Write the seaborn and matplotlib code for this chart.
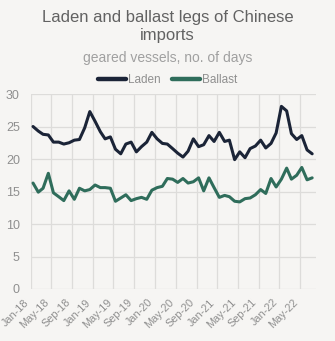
import numpy as np
import pandas as pd
import matplotlib
matplotlib.use("Agg")
import matplotlib.pyplot as plt
import matplotlib.dates as mdates
from matplotlib.lines import Line2D
import seaborn as sns

# ---- data ----
laden = [25.0, 24.3, 23.8, 23.7, 22.6, 22.6, 22.3, 22.5, 22.9, 23.0,
         24.8, 27.3, 25.8, 24.2, 23.1, 23.4, 21.5, 20.8, 22.3, 22.6,
         21.1, 21.9, 22.6, 24.1, 23.1, 22.4, 22.3, 21.6, 20.9, 20.3,
         21.2, 23.1, 21.9, 22.2, 23.6, 22.7, 24.1, 22.7, 22.9, 19.9,
         21.1, 20.2, 21.6, 22.0, 22.9, 21.7, 22.4, 24.0, 28.1, 27.4,
         23.9, 23.0, 23.6, 21.4, 20.8]
ballast = [16.3, 14.9, 15.5, 17.8, 14.8, 14.2, 13.6, 15.1, 13.8, 15.5,
           15.1, 15.3, 16.0, 15.6, 15.6, 15.5, 13.5, 14.0, 14.5, 13.6,
           13.9, 14.1, 13.8, 15.2, 15.6, 15.8, 17.0, 16.9, 16.4, 17.0,
           16.3, 16.5, 17.1, 15.1, 17.1, 15.6, 14.1, 14.4, 14.2, 13.5,
           13.4, 13.9, 14.0, 14.5, 15.3, 14.7, 17.0, 15.7, 16.9, 18.6,
           16.9, 17.5, 18.7, 16.8, 17.1]
months = pd.date_range("2018-01-01", periods=len(laden), freq="MS") + pd.Timedelta(days=12)
series_names = ["Laden", "Ballast"]
colors = ["#1b2437", "#2f6d5b"]
yticks = [0, 5, 10, 15, 20, 25, 30]

df = pd.DataFrame({
    "date": list(months) * 2,
    "value": laden + ballast,
    "series": ["Laden"] * len(laden) + ["Ballast"] * len(ballast),
})

bg = "#f6f5f3"
sns.set_style("white")
plt.rcParams["font.family"] = ["Liberation Sans", "DejaVu Sans"]

fig = plt.figure(figsize=(3.35, 3.41), dpi=100, facecolor=bg)
ax = fig.add_axes([0.0925, 0.1525, 0.8505, 0.5718])
ax.set_facecolor(bg)

sns.lineplot(data=df, x="date", y="value", hue="series", hue_order=series_names,
             palette=colors, linewidth=2.2, ax=ax, legend=False)

ax.set_ylim(0, 30)
ax.set_yticks(yticks)
ax.set_xlim(pd.Timestamp("2018-01-01"), pd.Timestamp("2022-08-04"))
ax.xaxis.set_major_locator(mdates.MonthLocator(bymonth=[1, 5, 9]))
ax.xaxis.set_major_formatter(mdates.DateFormatter("%b-%y"))
ax.grid(True, color="#dddcda", linewidth=0.9)
ax.set_axisbelow(True)
for s in ax.spines.values():
    s.set_visible(False)
ax.tick_params(axis="y", length=0, pad=8, labelsize=9, labelcolor="#8f8f8f")
ax.tick_params(axis="x", length=0, pad=6, labelsize=7.8, labelcolor="#8f8f8f")
for lab in ax.get_xticklabels():
    lab.set_rotation(45)
    lab.set_ha("right")
ax.set_xlabel("")
ax.set_ylabel("")

fig.text(0.5, 0.922, "Laden and ballast legs of Chinese\nimports", ha="center", va="center",
         fontsize=12, color="#626262", linespacing=1.2)
fig.text(0.5, 0.83, "geared vessels, no. of days", ha="center", va="center",
         fontsize=10, color="#a0a0a0")

handles = [Line2D([0], [0], color=c, lw=3.2, solid_capstyle="round") for c in colors]
fig.legend(handles, series_names, loc="center", bbox_to_anchor=(0.5, 0.765), ncol=2,
           frameon=False, fontsize=8.5, labelcolor="#8f8f8f", handlelength=2.4,
           handletextpad=0.15, columnspacing=1.0)

fig.savefig("out.png", dpi=100, facecolor=bg)
